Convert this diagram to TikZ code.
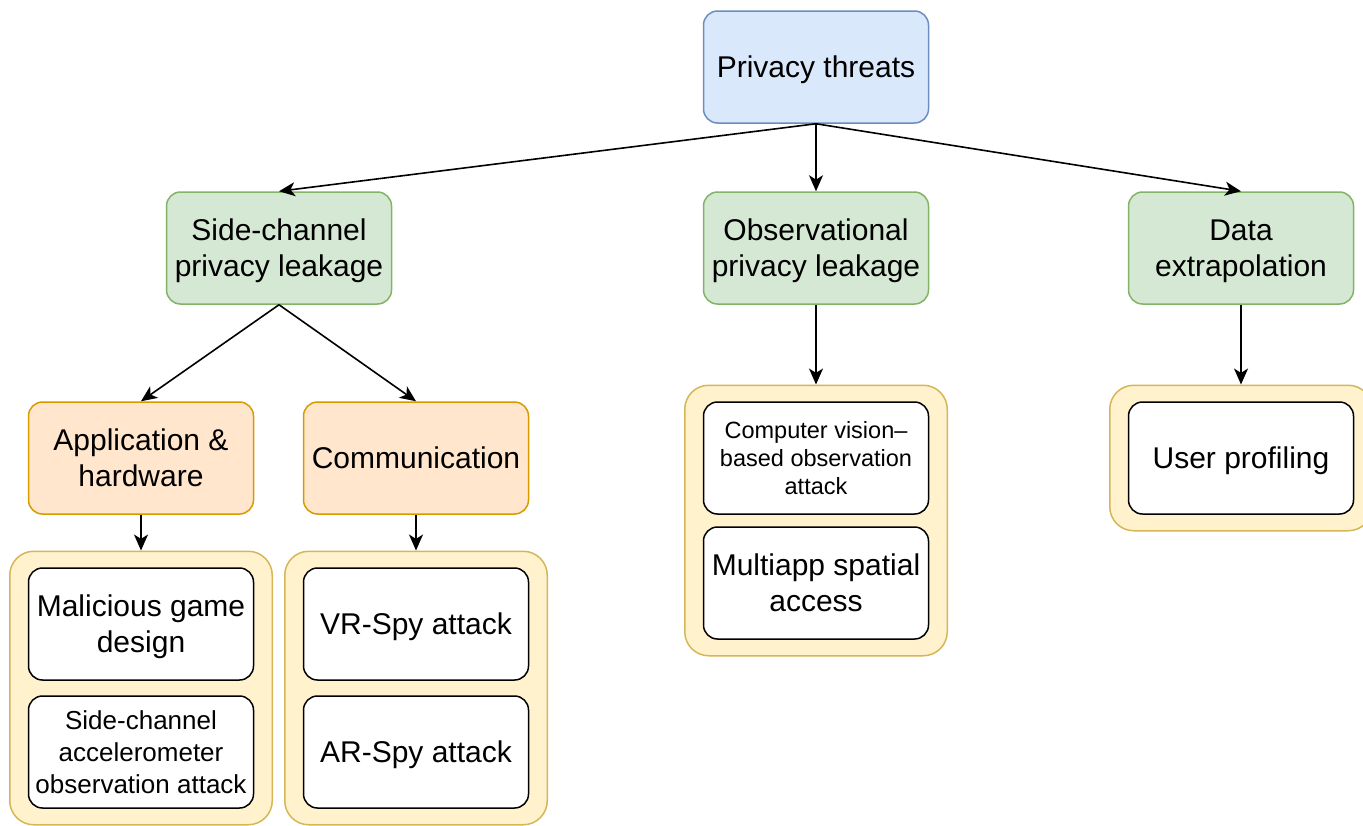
\documentclass[tikz,border=0pt]{standalone}
\usepackage{fontspec}
\setmainfont{Liberation Sans}
\usepackage{tikz}
\usetikzlibrary{arrows.meta,fit,backgrounds}

\definecolor{blueF}{HTML}{DAE8FC}
\definecolor{blueD}{HTML}{6C8EBF}
\definecolor{greenF}{HTML}{D5E8D4}
\definecolor{greenD}{HTML}{82B366}
\definecolor{orangeF}{HTML}{FFE6CC}
\definecolor{orangeD}{HTML}{D79B00}
\definecolor{yellowF}{HTML}{FFF2CC}
\definecolor{yellowD}{HTML}{D6B656}

\tikzset{
  box/.style={draw, rounded corners=7pt, minimum width=112.5pt, minimum height=56pt,
    align=center, inner sep=1pt, text depth=0pt, line width=0.75pt,
    font=\fontsize{15}{18}\selectfont},
  root/.style={box, fill=blueF, draw=blueD},
  cat/.style={box, fill=greenF, draw=greenD},
  sub/.style={box, fill=orangeF, draw=orangeD},
  leaf/.style={box, fill=white, draw=black},
  grp/.style={draw=yellowD, fill=yellowF, rounded corners=12pt,
    inner xsep=9pt, inner ysep=8pt, line width=0.75pt},
  link/.style={->, line width=0.8pt}
}

\begin{document}
\begin{tikzpicture}[x=0.5pt,y=-0.5pt,>={Stealth[length=8pt,width=7pt,inset=2.2pt]}]
  \useasboundingbox (0,0) rectangle (1363,825);

  \node[root] (top) at (816,67) {Privacy threats};

  \node[cat] (side) at (279,248) {Side-channel\\privacy leakage};
  \node[cat] (obs) at (816,248) {Observational\\privacy leakage};
  \node[cat] (data) at (1241,248) {Data\\extrapolation};

  \node[sub] (app) at (141,458) {Application \&\\hardware};
  \node[sub] (comm) at (416,458) {Communication};

  \node[leaf] (mal) at (141,624) {Malicious game\\design};
  \node[leaf, font=\fontsize{13}{16}\selectfont] (acc) at (141,752)
    {Side-channel\\accelerometer\\observation attack};
  \node[leaf] (vr) at (416,624) {VR-Spy attack};
  \node[leaf] (ar) at (416,752) {AR-Spy attack};
  \node[leaf, font=\fontsize{11.75}{14}\selectfont] (cv) at (816,458)
    {Computer vision–\\based observation\\attack};
  \node[leaf] (multi) at (816,583) {Multiapp spatial\\access};
  \node[leaf] (prof) at (1241,458) {User profiling};

  \begin{scope}[on background layer]
    \node[grp, fit=(mal)(acc)] (g1) {};
    \node[grp, fit=(vr)(ar)] (g2) {};
    \node[grp, fit=(cv)(multi)] (g3) {};
    \node[grp, fit=(prof)] (g4) {};
  \end{scope}

  \foreach \t in {side,obs,data}{\draw[link] (top.south) -- (\t.north);}
  \foreach \t in {app,comm}{\draw[link] (side.south) -- (\t.north);}
  \draw[link] (app.south) -- (g1.north);
  \draw[link] (comm.south) -- (g2.north);
  \draw[link] (obs.south) -- (g3.north);
  \draw[link] (data.south) -- (g4.north);
\end{tikzpicture}
\end{document}
